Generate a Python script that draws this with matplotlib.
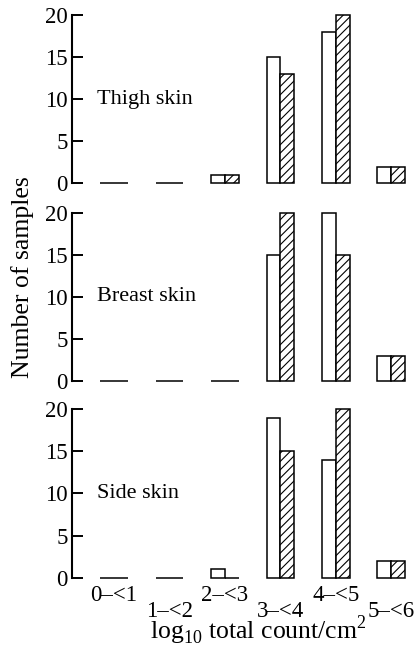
import matplotlib.pyplot as plt
import numpy as np
from matplotlib.transforms import ScaledTranslation

plt.rcParams['font.family'] = ['Liberation Serif', 'DejaVu Serif']
plt.rcParams['mathtext.fontset'] = 'custom'
plt.rcParams['mathtext.rm'] = 'Liberation Serif'
plt.rcParams['hatch.linewidth'] = 0.8

categories = ['0–<1', '1–<2', '2–<3', '3–<4', '4–<5', '5–<6']
panels = ['Thigh skin', 'Breast skin', 'Side skin']
open_counts = [
    [0, 0, 1, 15, 18, 2],
    [0, 0, 0, 15, 20, 3],
    [0, 0, 1, 19, 14, 2],
]
hatched_counts = [
    [0, 0, 1, 13, 20, 2],
    [0, 0, 0, 20, 15, 3],
    [0, 0, 0, 15, 20, 2],
]

fig = plt.figure(figsize=(4.16, 6.48), dpi=100)
bottoms = [0.717, 0.412, 0.1085]
x = np.arange(len(categories))
w = 0.25

for i, name in enumerate(panels):
    ax = fig.add_axes([0.173, bottoms[i], 0.813, 0.26])
    ax.bar(x - w / 2, open_counts[i], w, color='white', edgecolor='black',
           linewidth=1.1, clip_on=False)
    ax.bar(x + w / 2, hatched_counts[i], w, color='white', edgecolor='black',
           linewidth=1.1, hatch='////', clip_on=False)
    ax.set_xlim(-0.758, 5.34)
    ax.set_ylim(0, 20)
    ax.set_yticks([0, 5, 10, 15, 20])
    for s in ['top', 'right', 'bottom']:
        ax.spines[s].set_visible(False)
    ax.spines['left'].set_linewidth(1.5)
    ax.tick_params(axis='y', direction='in', length=8, width=1.4,
                   labelsize=16.5, pad=3)
    ax.text(-0.31, 10, name, fontsize=16, va='center', ha='left')
    if i < 2:
        ax.set_xticks([])
    else:
        ax.set_xticks(x)
        ax.set_xticklabels(categories, fontsize=16.5)
        ax.tick_params(axis='x', length=0, pad=5)
        shift = ScaledTranslation(0, -0.165, fig.dpi_scale_trans)
        for j, lab in enumerate(ax.get_xticklabels()):
            if j % 2 == 1:
                lab.set_transform(lab.get_transform() + shift)
        ax.set_xlabel('log$_{10}$ total count/cm$^2$', fontsize=18.5,
                      va='top')
        ax.xaxis.set_label_coords(0.55, -0.21)

fig.text(0.055, 0.572, 'Number of samples', rotation=90, va='center',
         ha='center', fontsize=18.5)

fig.savefig('out.png', dpi=100)
